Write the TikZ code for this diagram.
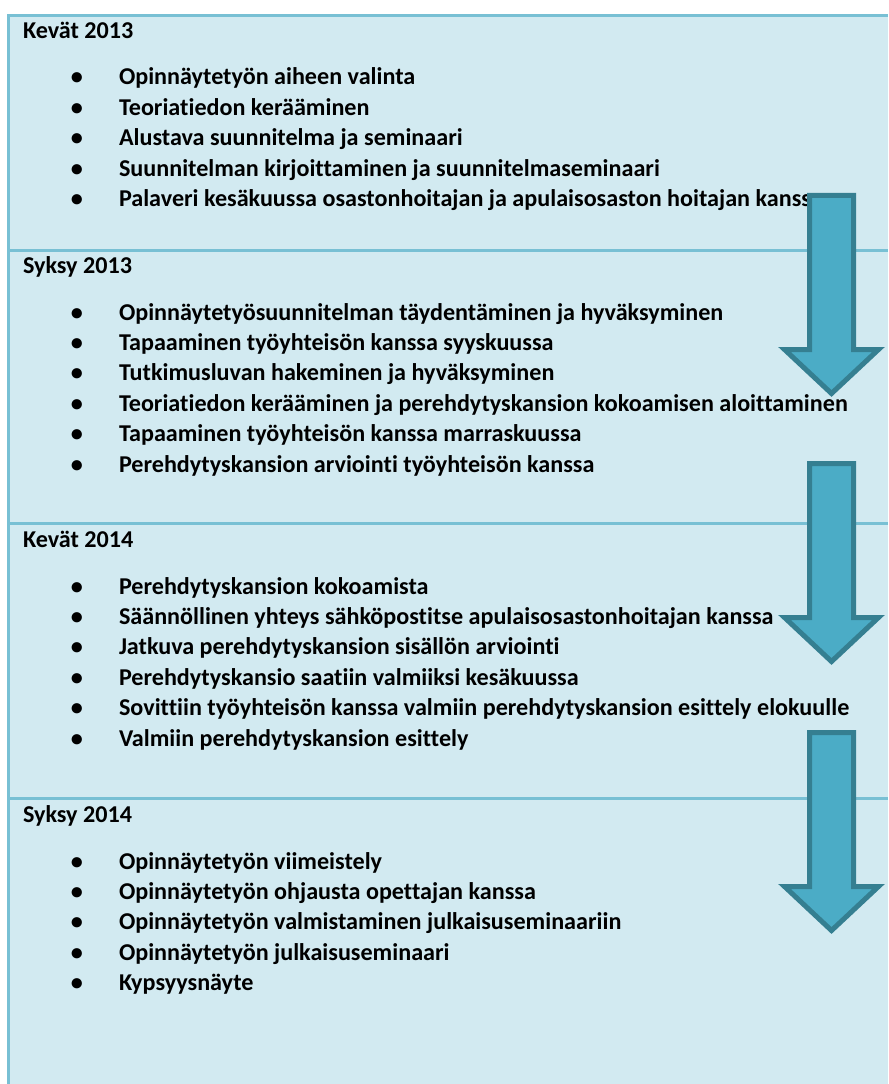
\documentclass[tikz,border=0pt]{standalone}
\usepackage{fontspec}
\setmainfont{Carlito}[Ligatures=NoCommon]
\definecolor{bgfill}{HTML}{D2EAF1}
\definecolor{rulecol}{HTML}{78C0D4}
\definecolor{arrowfill}{HTML}{4BACC6}
\definecolor{arrowedge}{HTML}{357F91}
\tikzset{
  txt/.style={inner sep=0pt, outer sep=0pt, font=\fontsize{18.1}{21}\selectfont\bfseries, text=black},
  headtxt/.style={txt, anchor=base west},
  itemtxt/.style={txt, anchor=base west},
  bul/.style={txt, anchor=base},
  sepline/.style={draw=rulecol, line width=2.25pt},
  bigarrow/.style={fill=arrowfill, draw=arrowedge, line width=3.75pt, miter limit=10},
}
\begin{document}
\begin{tikzpicture}[x=0.75pt,y=-0.75pt]
\useasboundingbox (0,0) rectangle (888,1084);
% background panel
\fill[bgfill] (8.5,15.5) rectangle (888,1084);
\draw[sepline] (8.5,1084) -- (8.5,15.5) -- (888,15.5);
\draw[sepline] (10,250) -- (888,250);
\draw[sepline] (10,523.5) -- (888,523.5);
\draw[sepline] (10,798) -- (888,798);

% Section 1
\node[headtxt] (h1) at (23,39) {Kevät 2013};
\node[bul] (b11) at (77,85) {•};
\node[itemtxt] (t11) at (119,85) {Opinnäytetyön aiheen valinta};
\node[bul] (b12) at (77,115.5) {•};
\node[itemtxt] (t12) at (119,115.5) {Teoriatiedon kerääminen};
\node[bul] (b13) at (77,146) {•};
\node[itemtxt] (t13) at (119,146) {Alustava suunnitelma ja seminaari};
\node[bul] (b14) at (77,176.5) {•};
\node[itemtxt] (t14) at (119,176.5) {Suunnitelman kirjoittaminen ja suunnitelmaseminaari};
\node[bul] (b15) at (77,207) {•};
\node[itemtxt] (t15) at (119,207) {Palaveri kesäkuussa osastonhoitajan ja apulaisosaston hoitajan kanssa};

% Section 2
\node[headtxt] (h2) at (23,273) {Syksy 2013};
\node[bul] (b21) at (77,320) {•};
\node[itemtxt] (t21) at (119,320) {Opinnäytetyösuunnitelman täydentäminen ja hyväksyminen};
\node[bul] (b22) at (77,350.4) {•};
\node[itemtxt] (t22) at (119,350.4) {Tapaaminen työyhteisön kanssa syyskuussa};
\node[bul] (b23) at (77,380.8) {•};
\node[itemtxt] (t23) at (119,380.8) {Tutkimusluvan hakeminen ja hyväksyminen};
\node[bul] (b24) at (77,411.2) {•};
\node[itemtxt] (t24) at (119,411.2) {Teoriatiedon kerääminen ja perehdytyskansion kokoamisen aloittaminen};
\node[bul] (b25) at (77,441.6) {•};
\node[itemtxt] (t25) at (119,441.6) {Tapaaminen työyhteisön kanssa marraskuussa};
\node[bul] (b26) at (77,472) {•};
\node[itemtxt] (t26) at (119,472) {Perehdytyskansion arviointi työyhteisön kanssa};

% Section 3
\node[headtxt] (h3) at (23,547) {Kevät 2014};
\node[bul] (b31) at (77,594) {•};
\node[itemtxt] (t31) at (119,594) {Perehdytyskansion kokoamista};
\node[bul] (b32) at (77,624.4) {•};
\node[itemtxt] (t32) at (119,624.4) {Säännöllinen yhteys sähköpostitse apulaisosastonhoitajan kanssa};
\node[bul] (b33) at (77,654.8) {•};
\node[itemtxt] (t33) at (119,654.8) {Jatkuva perehdytyskansion sisällön arviointi};
\node[bul] (b34) at (77,685.2) {•};
\node[itemtxt] (t34) at (119,685.2) {Perehdytyskansio saatiin valmiiksi kesäkuussa};
\node[bul] (b35) at (77,715.6) {•};
\node[itemtxt] (t35) at (119,715.6) {Sovittiin työyhteisön kanssa valmiin perehdytyskansion esittely elokuulle};
\node[bul] (b36) at (77,746) {•};
\node[itemtxt] (t36) at (119,746) {Valmiin perehdytyskansion esittely};

% Section 4
\node[headtxt] (h4) at (23,822) {Syksy 2014};
\node[bul] (b41) at (77,869) {•};
\node[itemtxt] (t41) at (119,869) {Opinnäytetyön viimeistely};
\node[bul] (b42) at (77,899.4) {•};
\node[itemtxt] (t42) at (119,899.4) {Opinnäytetyön ohjausta opettajan kanssa};
\node[bul] (b43) at (77,929.8) {•};
\node[itemtxt] (t43) at (119,929.8) {Opinnäytetyön valmistaminen julkaisuseminaariin};
\node[bul] (b44) at (77,960.2) {•};
\node[itemtxt] (t44) at (119,960.2) {Opinnäytetyön julkaisuseminaari};
\node[bul] (b45) at (77,990.6) {•};
\node[itemtxt] (t45) at (119,990.6) {Kypsyysnäyte};

% Arrows
\foreach \T/\S in {195.5/349.5, 463.5/617.5, 732.5/886.5} {
  \draw[bigarrow] (809.5,\T) -- (853.5,\T) -- (853.5,\S) -- (878.5,\S)
     -- (831.5,\S+44) -- (784.5,\S) -- (809.5,\S) -- cycle;
}
\end{tikzpicture}
\end{document}
